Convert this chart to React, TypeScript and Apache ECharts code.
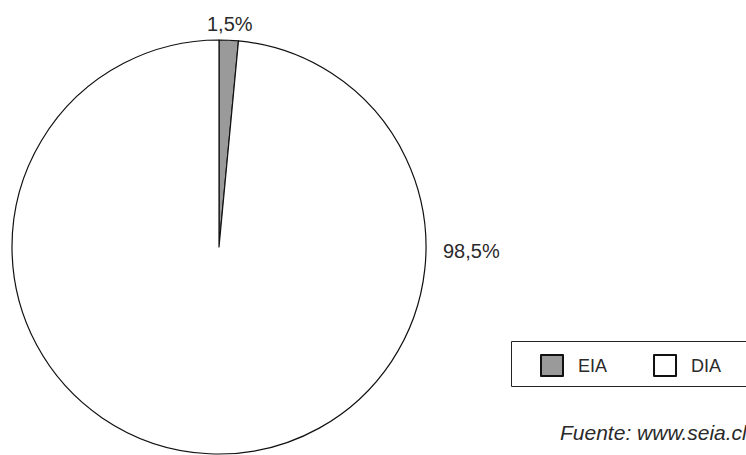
import React, { useEffect, useRef } from "react";
import * as echarts from "echarts";

const categories = ["EIA", "DIA"];
const values = [1.5, 98.5];
const valueLabels = ["1,5%", "98,5%"];
const colors = ["#9a9a9a", "#ffffff"];
const sourceText = "Fuente: www.seia.cl";

const FONT = "'Liberation Sans', Arial, Helvetica, sans-serif";

export default function App() {
  const ref = useRef<HTMLDivElement>(null);
  useEffect(() => {
    if (!ref.current) return;
    const chart = echarts.init(ref.current, undefined, { renderer: "svg" });
    const labelPos = [
      { x: 207, y: 24 },
      { x: 443, y: 251 },
    ];
    chart.setOption({
      animation: false,
      backgroundColor: "#ffffff",
      legend: {
        left: 540,
        top: 354,
        orient: "horizontal",
        data: categories,
        icon: "rect",
        itemWidth: 22,
        itemHeight: 21,
        itemGap: 46,
        padding: 0,
        selectedMode: false,
        textStyle: {
          fontFamily: FONT,
          fontSize: 18,
          color: "#2a2a2a",
          padding: [0, 0, 0, 10],
        },
      },
      graphic: [
        {
          type: "rect",
          shape: { x: 511.5, y: 341.5, width: 300, height: 45 },
          style: { fill: "none", stroke: "#222", lineWidth: 1 },
          silent: true,
        },
        {
          type: "text",
          x: 560,
          y: 432,
          style: {
            text: sourceText,
            fontFamily: FONT,
            fontStyle: "italic",
            fontSize: 21,
            fill: "#2a2a2a",
            verticalAlign: "middle",
          },
        },
      ],
      series: [
        {
          type: "pie",
          center: [219, 247],
          radius: 207,
          startAngle: 90,
          clockwise: true,
          silent: true,
          data: categories.map((c, i) => ({
            name: c,
            value: values[i],
            itemStyle: { color: colors[i] },
            label: { formatter: valueLabels[i] },
          })),
          itemStyle: { borderColor: "#111", borderWidth: 1.2 },
          label: {
            show: true,
            position: "outside",
            fontFamily: FONT,
            fontSize: 20,
            color: "#2a2a2a",
          },
          labelLine: { show: false },
          labelLayout: (params: any) => {
            const p = labelPos[params.dataIndex];
            return { x: p.x, y: p.y, align: "left", verticalAlign: "middle" };
          },
        },
      ],
    });
    return () => chart.dispose();
  }, []);
  return (
    <div
      ref={ref}
      style={{ position: "absolute", left: 0, top: 0, width: 746, height: 455 }}
    />
  );
}
